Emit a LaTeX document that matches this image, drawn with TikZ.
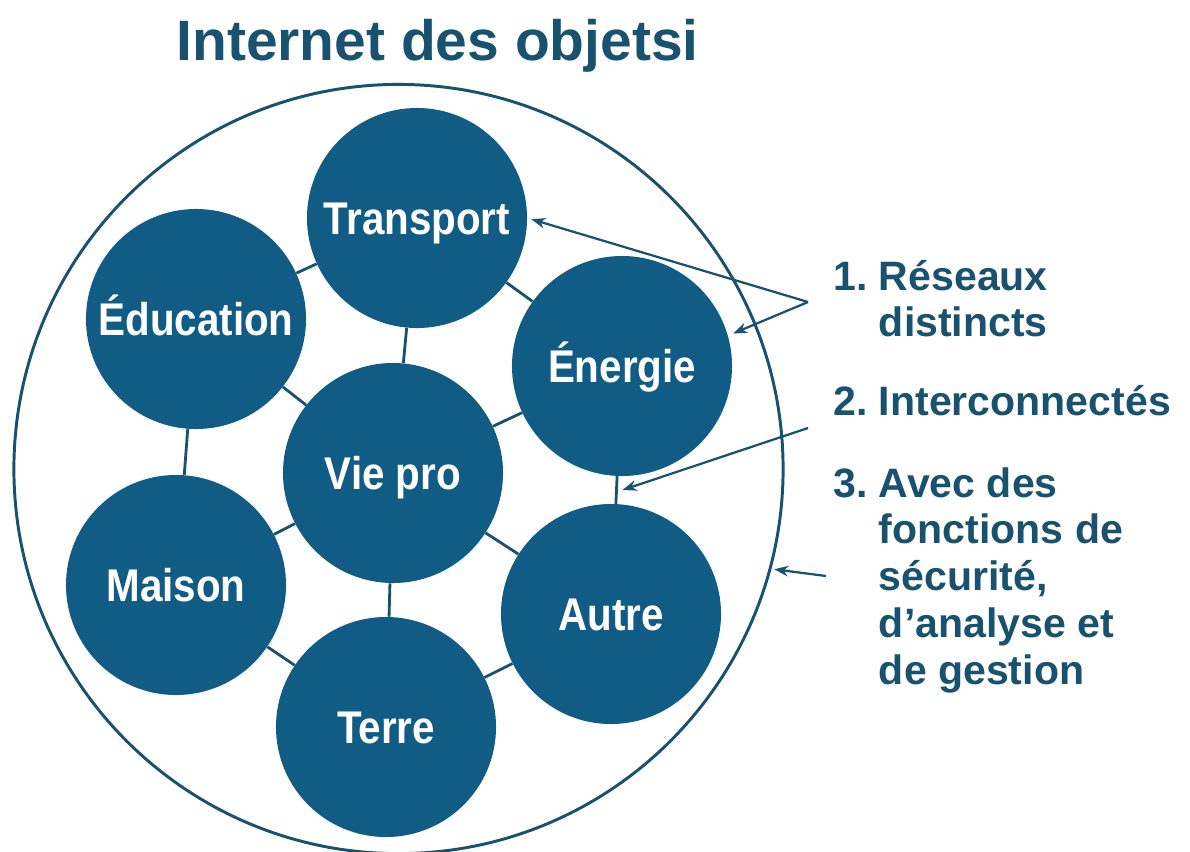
\documentclass[tikz,border=0pt]{standalone}
\usepackage{fontspec}
\setmainfont{Liberation Sans}
\newfontfamily\narrowsans[FakeStretch=0.88]{Liberation Sans}
\usetikzlibrary{arrows.meta,calc}
\definecolor{iotblue}{RGB}{16,92,133}
\definecolor{iotdark}{RGB}{24,82,110}
\tikzset{
    netcircle/.style={circle,fill=iotblue,text=white,minimum size=5.5cm,inner sep=0pt,
        text height=29.3pt,text depth=6pt,font=\narrowsans\bfseries\fontsize{32.6}{36}\selectfont},
    link/.style={draw=iotdark,line width=2pt},
    outer ring/.style={circle,draw=iotdark,line width=2.1pt,minimum size=19.225cm,inner sep=0pt},
    arr/.style={-{Stealth[length=10pt,width=7.5pt]},draw=iotdark,line width=1.6pt},
    note/.style={anchor=base west,inner sep=0pt,text=iotdark,font=\bfseries\fontsize{29.2}{33.3}\selectfont},
}

\begin{document}
\begin{tikzpicture}[x=0.025cm,y=-0.025cm]
    \useasboundingbox (0,0) rectangle (1190,851);
    \node[anchor=base,text=iotdark,font=\bfseries\fontsize{40.5}{48}\selectfont] (title) at (437.5,60) {Internet des objetsi};
    \node[outer ring] (iot) at (398.5,469) {};

    % the seven networks
    \node[netcircle] (transport) at (417,218) {Transport};
    \node[netcircle] (education) at (196,319) {Éducation};
    \node[netcircle] (energie) at (622,366) {Énergie};
    \node[netcircle] (viepro) at (393,473) {Vie pro};
    \node[netcircle] (maison) at (176,585) {Maison};
    \node[netcircle] (autre) at (611,614) {Autre};
    \node[netcircle] (terre) at (386,727) {Terre};

    \foreach \a/\b in {transport/education,transport/energie,transport/viepro,
        education/viepro,education/maison,energie/viepro,energie/autre,
        viepro/maison,viepro/autre,viepro/terre,maison/terre,autre/terre}
        \draw[link] (\a) -- (\b);

    % notes on the right
    \node[note] (n1) at (833,290) {\begin{tabular}[t]{@{}l@{\ }l@{}}1.&Réseaux\\&distincts\end{tabular}};
    \node[note] (n2) at (833,415) {\begin{tabular}[t]{@{}l@{\ }l@{}}2.&Interconnectés\end{tabular}};
    \node[note] (n3) at (833,497) {\begin{tabular}[t]{@{}l@{\ }l@{}}3.&Avec des\\&fonctions de\\&sécurité,\\&d’analyse et\\&de gestion\end{tabular}};

    \coordinate (r1) at (808,302);
    \coordinate (r2) at (808,428);
    \coordinate (r3) at (826,576);
    \coordinate (gap) at ($(energie)!.5!(autre)+(6,0)$);
    \draw[arr,shorten >=3pt] (r1) -- (transport.east);
    \draw[arr,shorten >=4pt] (r1) -- (energie.16);
    \draw[arr] (r2) -- (gap);
    \draw[arr,shorten >=2pt] (r3) -- (iot.-15.6);
\end{tikzpicture}
\end{document}
